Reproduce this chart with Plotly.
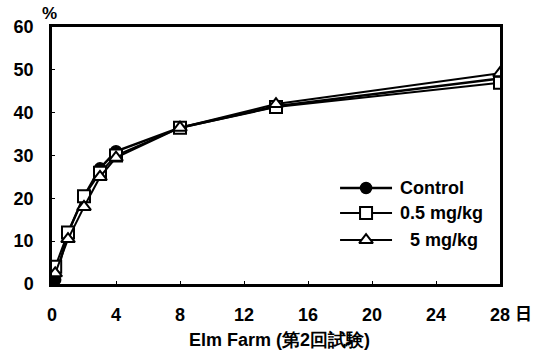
import plotly.graph_objects as go

days = [0.2, 1, 2, 3, 4, 8, 14, 28]
control = [1.0, 12.0, 20.5, 27.0, 31.0, 36.5, 41.5, 48.0]
dose_05 = [4.0, 12.0, 20.5, 26.0, 30.0, 36.5, 41.3, 47.0]
dose_5 = [2.5, 10.5, 18.0, 25.0, 29.5, 36.5, 42.0, 49.2]
names = ["Control", "0.5 mg/kg", "  5 mg/kg"]
x_ticks = [0, 4, 8, 12, 16, 20, 24, 28]
y_ticks = [0, 10, 20, 30, 40, 50, 60]

FAM = "Liberation Sans"
font_tick = dict(family=FAM, size=18, color="black", weight="bold")

styles = [
    dict(line=dict(color="black", width=2.5),
         marker=dict(symbol="circle", size=11, color="black", line=dict(color="black", width=1.5))),
    dict(line=dict(color="black", width=2),
         marker=dict(symbol="square", size=12, color="white", line=dict(color="black", width=2))),
    dict(line=dict(color="black", width=2),
         marker=dict(symbol="triangle-up", size=12, color="white", line=dict(color="black", width=2))),
]
series = [control, dose_05, dose_5]

fig = go.Figure()
for nm, ys, st in zip(names, series, styles):
    fig.add_trace(go.Scatter(x=days, y=ys, name=nm, mode="lines+markers",
                             showlegend=False, **st))

# manual legend (overlay axis 0..1): a line segment with the marker drawn at its middle
leg_x0, leg_x1, leg_xm, leg_tx = 0.643, 0.759, 0.701, 0.772
leg_rows = [0.3735, 0.276, 0.171]
for nm, st, yr in zip(names, styles, leg_rows):
    fig.add_trace(go.Scatter(x=[leg_x0, leg_x1], y=[yr, yr], mode="lines",
                             line=st["line"], xaxis="x2", yaxis="y2",
                             showlegend=False, hoverinfo="skip"))
    fig.add_trace(go.Scatter(x=[leg_xm], y=[yr], mode="markers",
                             marker=st["marker"], xaxis="x2", yaxis="y2",
                             showlegend=False, hoverinfo="skip"))
    fig.add_annotation(text=nm.replace(" ", "\u00a0"), xref="x2", yref="y2", x=leg_tx, y=yr,
                       xanchor="left", yanchor="middle", showarrow=False,
                       font=dict(family=FAM, size=18, color="black", weight="bold"))

fig.update_layout(
    width=533, height=355,
    margin=dict(l=52, r=33, t=27, b=71),
    paper_bgcolor="white", plot_bgcolor="white",
    font=font_tick,
    showlegend=False,
    xaxis=dict(range=[0, 28], tickvals=x_ticks, showgrid=False, zeroline=False,
               showline=True, linecolor="black", linewidth=2.5, mirror=True,
               ticks="inside", ticklen=3, tickcolor="black", tickfont=font_tick,
               ticklabelstandoff=13),
    yaxis=dict(range=[0, 60], tickvals=y_ticks, showgrid=False, zeroline=False,
               showline=True, linecolor="black", linewidth=2.5, mirror=True,
               ticks="inside", ticklen=3, tickcolor="black", tickfont=font_tick,
               ticklabelstandoff=12),
    xaxis2=dict(range=[0, 1], overlaying="x", visible=False),
    yaxis2=dict(range=[0, 1], overlaying="y", visible=False),
    annotations=list(fig.layout.annotations) + [
        dict(text="%", xref="paper", yref="paper", x=0, y=1, xanchor="center", yanchor="bottom",
             xshift=-3, yshift=2, showarrow=False,
             font=dict(family=FAM, size=17, color="black", weight="bold")),
        dict(text="日", xref="paper", yref="paper", x=1, y=0, xanchor="left", yanchor="middle",
             xshift=13, yshift=-28, showarrow=False,
             font=dict(family="Noto Sans CJK JP", size=17, color="black", weight="bold")),
        dict(text="Elm Farm (第2回試験)", xref="paper", yref="paper", x=0.5, y=0,
             xanchor="center", yanchor="middle", xshift=3, yshift=-56, showarrow=False,
             font=dict(family=FAM, size=18, color="black", weight="bold")),
    ],
)

fig.write_html("out.html")
